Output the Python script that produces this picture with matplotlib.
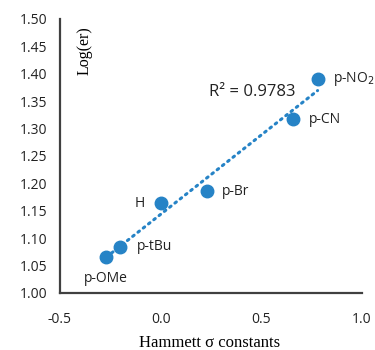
import numpy as np
import matplotlib.pyplot as plt

# Hammett sigma constants vs log(er)
labels = ["p-OMe", "p-tBu", "H", "p-Br", "p-CN", "p-NO$_2$"]
sigma = [-0.27, -0.20, 0.00, 0.23, 0.66, 0.78]
log_er = [1.066, 1.084, 1.164, 1.186, 1.317, 1.391]

blue = "#2683C6"
axis_col = "#404040"
tick_font = "Open Sans"

fig = plt.figure(figsize=(3.75, 3.5), dpi=100)
ax = fig.add_axes([0.16, 0.163, 0.805, 0.783])

# linear trendline
k, b = np.polyfit(sigma, log_er, 1)
xs = np.array([min(sigma), max(sigma)])
ax.plot(xs, k * xs + b, color=blue, lw=2.2, ls=(0, (0.6, 1.6)),
        dash_capstyle="round", zorder=2)
ax.plot(sigma, log_er, "o", color=blue, ms=9, zorder=3)

# point labels (offset in points)
offsets = {
    "p-OMe": (0, -16, "center"),
    "p-tBu": (12, 0, "left"),
    "H": (-11, 0, "right"),
    "p-Br": (11, 0, "left"),
    "p-CN": (11, 0, "left"),
    "p-NO$_2$": (11, 0, "left"),
}
for name, x, y in zip(labels, sigma, log_er):
    dx, dy, ha = offsets[name]
    ax.annotate(name, (x, y), xytext=(dx, dy), textcoords="offset points",
                ha=ha, va="center", fontsize=10, family=tick_font, color="#222222")

ax.text(0.454, 1.367, "R² = 0.9783", ha="center", va="center",
        fontsize=12, family=tick_font, color="#222222")

ax.set_xlim(-0.5, 1.0)
ax.set_ylim(1.0, 1.5)
ax.set_xticks([-0.5, 0.0, 0.5, 1.0])
ax.set_yticks(np.arange(1.0, 1.501, 0.05))
ax.xaxis.set_major_formatter(plt.FormatStrFormatter("%.1f"))
ax.yaxis.set_major_formatter(plt.FormatStrFormatter("%.2f"))
ax.tick_params(length=0, labelsize=10, colors="#222222")
ax.tick_params(axis="y", pad=9)
ax.tick_params(axis="x", pad=14)
for lab in ax.get_xticklabels() + ax.get_yticklabels():
    lab.set_family(tick_font)

for s in ["top", "right"]:
    ax.spines[s].set_visible(False)
for s in ["left", "bottom"]:
    ax.spines[s].set_color(axis_col)
    ax.spines[s].set_linewidth(1.6)

ax.text(0.08, 0.975, "Log(er)", transform=ax.transAxes, rotation=90,
        ha="center", va="top", fontsize=11.5, family="Liberation Serif")
fig.text(0.56, 0.02, "Hammett σ constants", ha="center", va="center",
         fontsize=12, family="Liberation Serif")

fig.savefig("out.png", dpi=100)
